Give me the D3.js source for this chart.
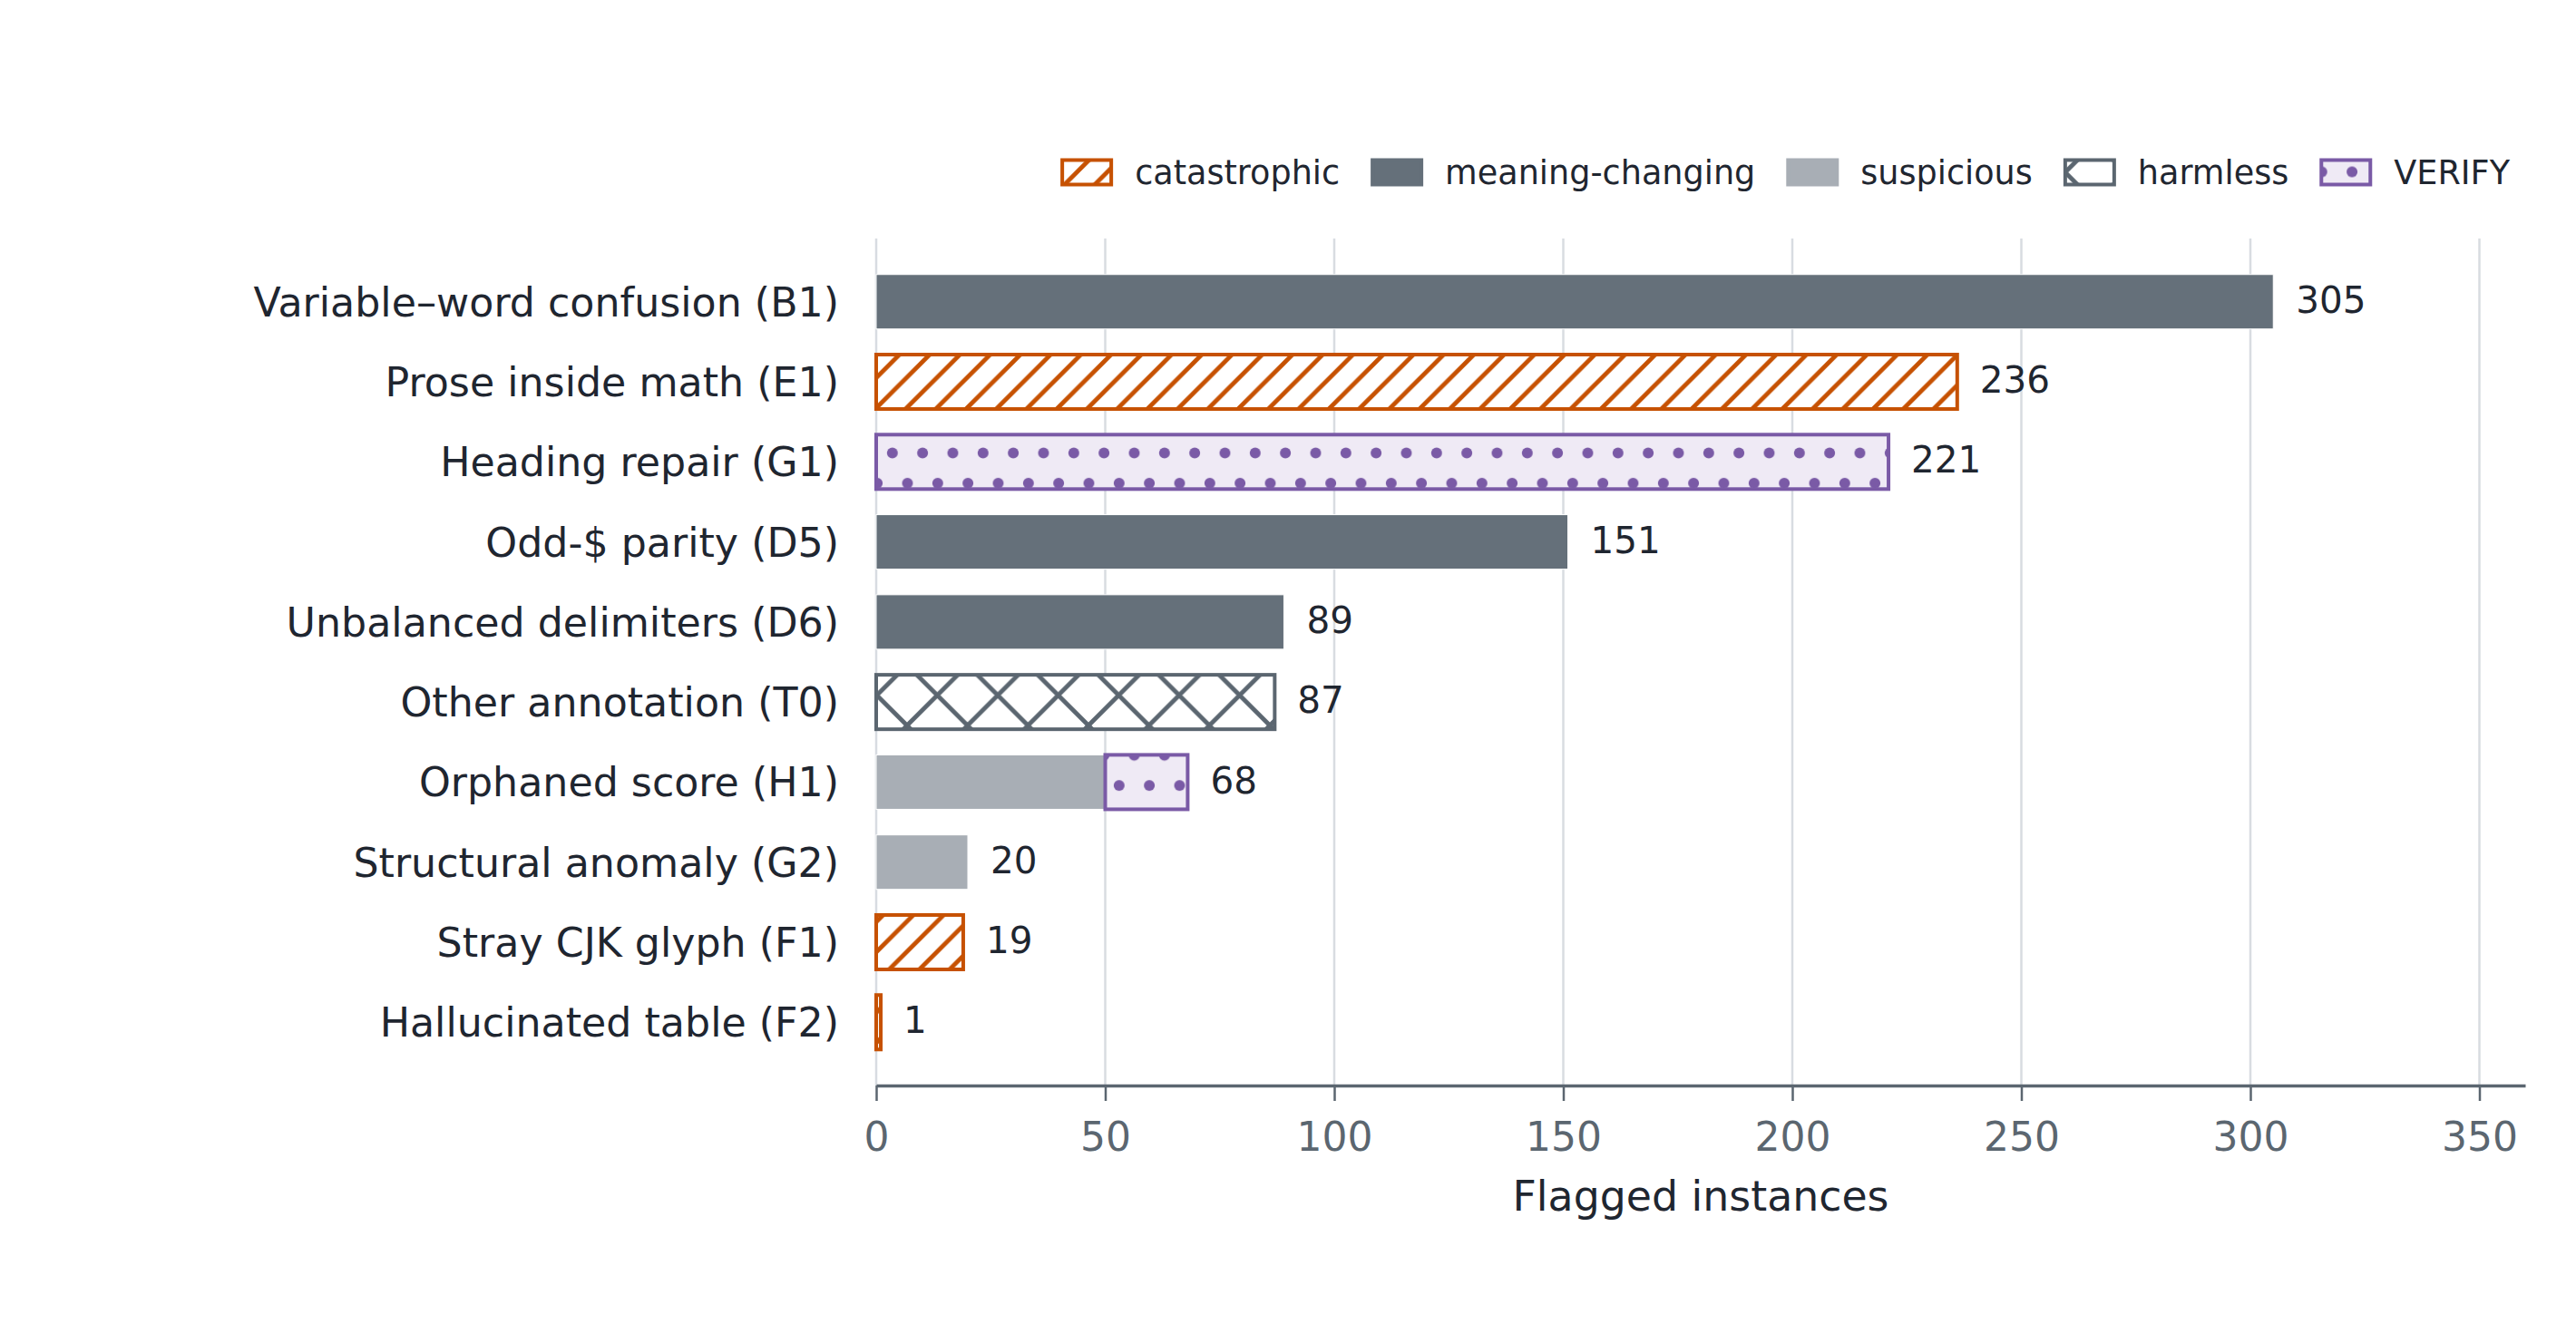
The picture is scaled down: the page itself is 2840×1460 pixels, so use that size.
<!DOCTYPE html>
<html>
<head>
<meta charset="utf-8">
<script src="https://cdn.jsdelivr.net/npm/d3@7"></script>
<style>
  body { margin: 0; background: #fff; }
  text { font-family: "DejaVu Sans", sans-serif; }
</style>
</head>
<body>
<script>
// Categories (top to bottom)
const categories = [
    "Variable–word confusion (B1)",
    "Prose inside math (E1)",
    "Heading repair (G1)",
    "Odd-$ parity (D5)",
    "Unbalanced delimiters (D6)",
    "Other annotation (T0)",
    "Orphaned score (H1)",
    "Structural anomaly (G2)",
    "Stray CJK glyph (F1)",
    "Hallucinated table (F2)"
];

// Flagged instances per severity
const catastrophic    = [0, 236, 0, 0, 0, 0, 0, 0, 19, 1];
const meaningChanging = [305, 0, 0, 151, 89, 0, 0, 0, 0, 0];
const suspicious      = [0, 0, 0, 0, 0, 0, 50, 20, 0, 0];
const harmless        = [0, 0, 0, 0, 0, 87, 0, 0, 0, 0];
const verify          = [0, 0, 221, 0, 0, 0, 18, 0, 0, 0];

const severities = ["catastrophic", "meaning-changing", "suspicious", "harmless", "VERIFY"];
const xTicks = [0, 50, 100, 150, 200, 250, 300, 350];
const xLabel = "Flagged instances";

// Rows for the stack
const rows = categories.map((c, i) => ({
    category: c,
    "catastrophic": catastrophic[i],
    "meaning-changing": meaningChanging[i],
    "suspicious": suspicious[i],
    "harmless": harmless[i],
    "VERIFY": verify[i]
}));
rows.forEach(r => r.total = d3.sum(severities, k => r[k]));

// Styles per severity
const style = {
    "catastrophic":     { fill: "url(#hatch-diag)", stroke: "#c65102", sw: 4 },
    "meaning-changing": { fill: "#65707a", stroke: "#ffffff", sw: 1 },
    "suspicious":       { fill: "#a8aeb5", stroke: "#ffffff", sw: 1 },
    "harmless":         { fill: "url(#hatch-cross)", stroke: "#5b6670", sw: 4 },
    "VERIFY":           { fill: "url(#hatch-dots)", stroke: "#7a5aa6", sw: 4 }
};

const W = 2840, H = 1460;
const plotTop = 263, plotBottom = 1197, plotLeft = 966, plotRight = 2784;

const svg = d3.select("body")
    .append("svg")
    .attr("width", W)
    .attr("height", H);

// Hatch patterns (anchored to the figure, like matplotlib)
const defs = svg.append("defs");

const diag = defs.append("pattern")
    .attr("id", "hatch-diag")
    .attr("patternUnits", "userSpaceOnUse")
    .attr("x", 16)
    .attr("width", 33.333)
    .attr("height", 33.333);
diag.append("rect").attr("width", 33.333).attr("height", 33.333).attr("fill", "#fff");
diag.append("path")
    .attr("d", "M-8.333,8.333L8.333,-8.333M0,33.333L33.333,0M25,41.667L41.667,25")
    .attr("stroke", "#c65102")
    .attr("stroke-width", 4.8);

const cross = defs.append("pattern")
    .attr("id", "hatch-cross")
    .attr("patternUnits", "userSpaceOnUse")
    .attr("width", 66.667)
    .attr("height", 66.667);
cross.append("rect").attr("width", 66.667).attr("height", 66.667).attr("fill", "#fff");
cross.append("path")
    .attr("d", "M-10,10L10,-10M0,66.667L66.667,0M56.667,76.667L76.667,56.667" +
               "M-10,56.667L10,76.667M0,0L66.667,66.667M56.667,-10L76.667,10")
    .attr("stroke", "#5b6670")
    .attr("stroke-width", 4.8);

const dots = defs.append("pattern")
    .attr("id", "hatch-dots")
    .attr("patternUnits", "userSpaceOnUse")
    .attr("x", 0.5)
    .attr("y", -0.5)
    .attr("width", 33.333)
    .attr("height", 66.667);
dots.append("rect").attr("width", 33.333).attr("height", 66.667).attr("fill", "#efeaf5");
[[0, 0], [33.333, 0], [0, 66.667], [33.333, 66.667], [16.667, 33.333]].forEach(p => {
    dots.append("circle")
        .attr("cx", p[0])
        .attr("cy", p[1])
        .attr("r", 6)
        .attr("fill", "#7a5aa6");
});

// Scales
const x = d3.scaleLinear()
    .domain([0, 360])
    .range([plotLeft, plotRight]);

const y = d3.scaleBand()
    .domain(categories)
    .range([plotTop, plotBottom])
    .paddingInner(0.32)
    .paddingOuter(0.45);

// Gridlines
svg.append("g")
    .selectAll("line")
    .data(xTicks)
    .enter()
    .append("line")
    .attr("x1", d => x(d))
    .attr("x2", d => x(d))
    .attr("y1", plotTop)
    .attr("y2", plotBottom)
    .attr("stroke", "#d8dce1")
    .attr("stroke-width", 2.5);

// Stacked bars
const stacked = d3.stack().keys(severities)(rows);

stacked.forEach(layer => {
    const s = style[layer.key];
    svg.append("g")
        .selectAll("rect")
        .data(layer.filter(d => d[1] - d[0] > 0))
        .enter()
        .append("rect")
        .attr("x", d => x(d[0]))
        .attr("y", d => y(d.data.category))
        .attr("width", d => x(d[1]) - x(d[0]))
        .attr("height", y.bandwidth())
        .attr("fill", s.fill)
        .attr("stroke", s.stroke)
        .attr("stroke-width", s.sw);
});

// Value labels
svg.append("g")
    .selectAll("text")
    .data(rows)
    .enter()
    .append("text")
    .attr("x", d => x(d.total) + 25)
    .attr("y", d => y(d.category) + y.bandwidth() / 2)
    .attr("dy", "0.3em")
    .style("font-size", "40.5px")
    .style("fill", "#1f2630")
    .text(d => d.total);

// Category labels
svg.append("g")
    .selectAll("text")
    .data(categories)
    .enter()
    .append("text")
    .attr("x", 925)
    .attr("y", d => y(d) + y.bandwidth() / 2)
    .attr("dy", "0.36em")
    .attr("text-anchor", "end")
    .style("font-size", "44.3px")
    .style("fill", "#1f2630")
    .text(d => d);

// X axis
const xAxis = svg.append("g")
    .attr("transform", `translate(0,${plotBottom})`)
    .call(d3.axisBottom(x).tickValues(xTicks).tickSize(17).tickSizeOuter(0).tickPadding(24));

xAxis.select(".domain")
    .attr("stroke", "#5b6670")
    .attr("stroke-width", 3.5);
xAxis.selectAll(".tick line")
    .attr("stroke", "#5b6670")
    .attr("stroke-width", 2.5);
xAxis.selectAll(".tick text")
    .style("font-family", "DejaVu Sans")
    .style("font-size", "44px")
    .attr("fill", "#5b6670");

// Axis label
svg.append("text")
    .attr("text-anchor", "middle")
    .attr("x", (plotLeft + plotRight) / 2)
    .attr("y", 1335)
    .style("font-size", "45.8px")
    .style("fill", "#1f2630")
    .text(xLabel);

// Legend (right aligned)
const legend = svg.append("g").attr("class", "legend");
const patchW = 54, patchH = 27, patchGap = 24, itemGap = 36;
const legendRight = 2767, legendY = 190;

const items = severities.map(k => {
    const g = legend.append("g");
    g.append("rect")
        .attr("x", 0)
        .attr("y", -patchH / 2)
        .attr("width", patchW)
        .attr("height", patchH)
        .attr("fill", style[k].fill)
        .attr("stroke", k === "meaning-changing" || k === "suspicious" ? style[k].fill : style[k].stroke)
        .attr("stroke-width", 4);
    const t = g.append("text")
        .attr("x", patchW + 2 + patchGap)
        .attr("y", 0)
        .attr("dy", "0.35em")
        .style("font-size", "36.6px")
        .style("fill", "#1f2630")
        .text(k);
    return { g, w: patchW + 2 + patchGap + t.node().getComputedTextLength() };
});

let cursor = legendRight;
for (let i = items.length - 1; i >= 0; i--) {
    cursor -= items[i].w;
    items[i].g.attr("transform", `translate(${cursor},${legendY})`);
    cursor -= itemGap;
}
</script>
</body>
</html>
